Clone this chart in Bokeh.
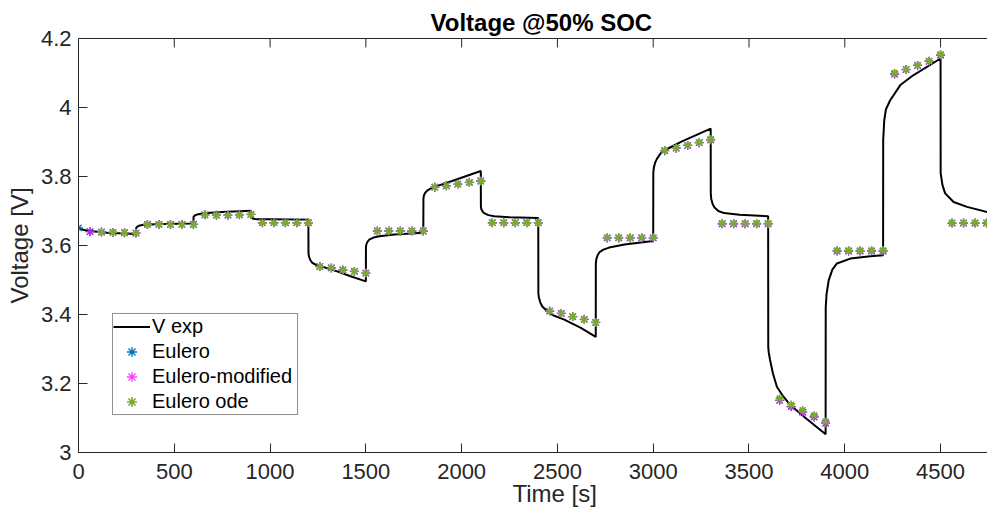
from bokeh.plotting import figure
from bokeh.models import FixedTicker, LinearAxis, Legend, LegendItem, Range1d, Title
from bokeh.embed import file_html
from bokeh.resources import INLINE

# ---------------- data ----------------
x_ticks = [0, 500, 1000, 1500, 2000, 2500, 3000, 3500, 4000, 4500]
y_ticks = [3, 3.2, 3.4, 3.6, 3.8, 4, 4.2]
y_tick_labels = {3: "3", 3.2: "3.2", 3.4: "3.4", 3.6: "3.6", 3.8: "3.8", 4: "4", 4.2: "4.2"}

# measured voltage (V exp) polyline vertices
exp_t = [0, 10, 30, 60, 150, 300,
         300.5, 303, 310, 320, 340, 370, 450, 600,
         600.5, 603, 610, 620, 640, 670, 750, 900,
         900.5, 903, 910, 920, 940, 1000, 1200,
         1200.5, 1203, 1210, 1220, 1240, 1270, 1350, 1420, 1500,
         1500.5, 1503, 1510, 1520, 1540, 1570, 1650, 1800,
         1800.5, 1803, 1810, 1820, 1840, 1870, 1950, 2100,
         2100.5, 2103, 2110, 2120, 2140, 2170, 2250, 2400,
         2400.5, 2403, 2410, 2420, 2445, 2480, 2533, 2620, 2700,
         2700.5, 2703, 2710, 2720, 2740, 2770, 2850, 3000,
         3000.5, 3003, 3010, 3020, 3040, 3070, 3150, 3300,
         3300.5, 3303, 3310, 3320, 3340, 3370, 3450, 3600,
         3600.5, 3603, 3610, 3625, 3646, 3681, 3716, 3800, 3900,
         3900.5, 3905, 3916, 3935, 3959, 4029, 4133, 4200,
         4200.5, 4206, 4215, 4237, 4290, 4359, 4500,
         4500.5, 4510, 4524, 4568, 4638, 4745]
exp_v = [3.652, 3.648, 3.645, 3.642, 3.637, 3.633,
         3.650, 3.652, 3.656, 3.658, 3.660, 3.661, 3.662, 3.664,
         3.683, 3.685, 3.688, 3.690, 3.692, 3.694, 3.697, 3.701,
         3.682, 3.680, 3.678, 3.677, 3.676, 3.676, 3.675,
         3.577, 3.568, 3.558, 3.550, 3.544, 3.539, 3.525, 3.511, 3.496,
         3.596, 3.604, 3.612, 3.618, 3.623, 3.627, 3.632, 3.637,
         3.736, 3.745, 3.753, 3.759, 3.766, 3.772, 3.787, 3.816,
         3.712, 3.705, 3.698, 3.693, 3.688, 3.685, 3.682, 3.680,
         3.461, 3.450, 3.436, 3.424, 3.410, 3.397, 3.386, 3.362, 3.335,
         3.548, 3.560, 3.572, 3.581, 3.588, 3.594, 3.603, 3.613,
         3.810, 3.825, 3.840, 3.852, 3.868, 3.879, 3.902, 3.939,
         3.751, 3.735, 3.720, 3.710, 3.700, 3.694, 3.689, 3.685,
         3.306, 3.290, 3.268, 3.229, 3.190, 3.161, 3.137, 3.098, 3.053,
         3.420, 3.460, 3.499, 3.530, 3.548, 3.562, 3.569, 3.572,
         3.905, 3.963, 3.995, 4.021, 4.065, 4.094, 4.142,
         3.809, 3.775, 3.751, 3.726, 3.712, 3.697]

# simulated samples, one every 60 s
sim_t = list(range(0, 4741, 60))
ode_v = [3.651, 3.640, 3.639, 3.638, 3.637, 3.636,
         3.661, 3.661, 3.661, 3.661, 3.661,
         3.689, 3.688, 3.688, 3.689, 3.690,
         3.666, 3.666, 3.666, 3.666, 3.666,
         3.539, 3.535, 3.529, 3.525, 3.520,
         3.642, 3.642, 3.642, 3.642, 3.642,
         3.769, 3.773, 3.778, 3.783, 3.787,
         3.666, 3.666, 3.666, 3.666, 3.666,
         3.410, 3.403, 3.394, 3.386, 3.377,
         3.623, 3.623, 3.623, 3.623, 3.623,
         3.876, 3.883, 3.891, 3.899, 3.908,
         3.664, 3.664, 3.664, 3.664, 3.664,
         3.157, 3.139, 3.123, 3.108, 3.090,
         3.586, 3.586, 3.586, 3.586, 3.586,
         4.100, 4.111, 4.123, 4.135, 4.154,
         3.666, 3.666, 3.666, 3.666]
euler_v = [3.651, 3.640, 3.639, 3.638, 3.637, 3.636,
           3.661, 3.661, 3.661, 3.661, 3.661,
           3.689, 3.688, 3.688, 3.689, 3.690,
           3.666, 3.666, 3.666, 3.666, 3.666,
           3.539, 3.535, 3.529, 3.525, 3.520,
           3.642, 3.642, 3.642, 3.642, 3.642,
           3.769, 3.773, 3.778, 3.783, 3.787,
           3.666, 3.666, 3.666, 3.666, 3.666,
           3.410, 3.403, 3.394, 3.386, 3.377,
           3.622, 3.622, 3.622, 3.622, 3.622,
           3.875, 3.882, 3.890, 3.898, 3.906,
           3.663, 3.663, 3.663, 3.663, 3.663,
           3.151, 3.133, 3.117, 3.103, 3.085,
           3.584, 3.584, 3.584, 3.584, 3.584,
           4.097, 4.110, 4.122, 4.134, 4.152,
           3.665, 3.665, 3.665, 3.665]
mod_v = list(euler_v)

AX = "#262626"
FONT = "Liberation Sans"
X_MAX = 4745
Y_MIN, Y_MAX = 3, 4.2
TICK_LEN_V = 0.026  # inward tick length on the top border (about 9 px)

p = figure(width=987, height=508, output_backend="svg", toolbar_location=None,
           x_range=Range1d(0, X_MAX), y_range=Range1d(Y_MIN, Y_MAX),
           min_border_left=78, min_border_right=0, min_border_top=38, min_border_bottom=56,
           y_axis_label="Voltage [V]")
p.grid.visible = False
p.outline_line_color = None
p.background_fill_color = "white"
p.border_fill_color = "white"

p.title.text = "Voltage @50% SOC"
p.title.text_font = FONT
p.title.text_font_size = "24px"
p.title.text_font_style = "bold"
p.title.text_color = "black"
p.title.align = "left"
p.title.offset = 352
p.title.standoff = 6

bottom_axis = p.below[0]
left_axis = p.left[0]
top_axis = LinearAxis(ticker=FixedTicker(ticks=[]))
top_axis.axis_line_color = AX
top_axis.axis_line_width = 1
top_axis.major_tick_line_color = None
top_axis.minor_tick_line_color = None
top_axis.major_label_standoff = 0
p.add_layout(top_axis, "above")

for ax in [bottom_axis, left_axis]:
    ax.axis_line_color = AX
    ax.axis_line_width = 1
    ax.major_tick_line_color = AX
    ax.major_tick_in = 9
    ax.major_tick_out = 0
    ax.minor_tick_line_color = None
    ax.major_label_text_font = FONT
    ax.major_label_text_font_size = "22px"
    ax.major_label_text_color = AX
    ax.axis_label_text_font = FONT
    ax.axis_label_text_font_size = "24px"
    ax.axis_label_text_font_style = "normal"
    ax.axis_label_text_color = AX

bottom_axis.ticker = FixedTicker(ticks=x_ticks)
left_axis.ticker = FixedTicker(ticks=y_ticks)
left_axis.major_label_overrides = y_tick_labels
bottom_axis.major_label_standoff = 11
left_axis.major_label_standoff = 7
left_axis.axis_label_standoff = 5

# x-axis title, placed below the tick labels, right of the frame centre as in the reference
x_title = Title(text="Time [s]", align="left", offset=434, standoff=-8,
                text_font=FONT, text_font_size="24px", text_font_style="normal",
                text_color=AX)
p.add_layout(x_title, "below")

# inward ticks on the top border of the box
p.segment(x0=x_ticks, y0=[Y_MAX] * len(x_ticks), x1=x_ticks,
          y1=[Y_MAX - TICK_LEN_V] * len(x_ticks), line_color=AX, line_width=1)

line_r = p.line(exp_t, exp_v, line_color="black", line_width=2)
eu_r = p.scatter(sim_t, euler_v, marker="asterisk", size=9, line_color="#0072BD", line_width=1.3)
mod_r = p.scatter(sim_t[1:], mod_v[1:], marker="asterisk", size=9, line_color="#FF00FF", line_width=1.3, line_alpha=0.75)
ode_r = p.scatter(sim_t[2:], ode_v[2:], marker="asterisk", size=8, line_color="#77AC30", line_width=1.6)

legend = Legend(items=[LegendItem(label="V exp", renderers=[line_r]),
                       LegendItem(label="Eulero", renderers=[eu_r]),
                       LegendItem(label="Eulero-modified", renderers=[mod_r]),
                       LegendItem(label="Eulero ode", renderers=[ode_r])],
                location=(34, 37))
legend.border_line_color = AX
legend.border_line_width = 1
legend.background_fill_color = "white"
legend.background_fill_alpha = 1
legend.padding = 0
legend.spacing = 0
legend.margin = 0
legend.label_height = 25
legend.label_width = 145
legend.glyph_height = 25
legend.glyph_width = 37
legend.label_standoff = 2
legend.label_text_font = FONT
legend.label_text_font_size = "20px"
legend.label_text_color = "black"
p.add_layout(legend)

open("out.html", "w").write(file_html(p, INLINE))
